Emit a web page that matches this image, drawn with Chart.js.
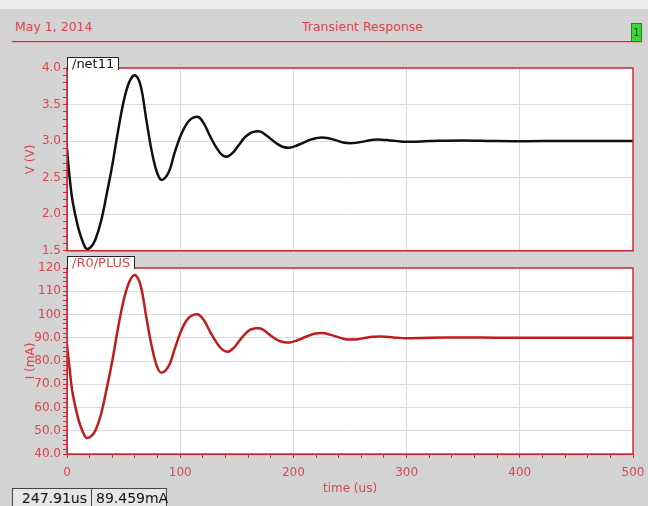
<!DOCTYPE html>
<html>
<head>
<meta charset="utf-8">
<script src="https://cdn.jsdelivr.net/npm/chart.js@4"></script>
<style>
  body { margin: 0; width: 648px; height: 506px; background: #d3d3d3; position: relative; overflow: hidden; font-family: "DejaVu Sans", sans-serif; }
  .topband { position: absolute; left: 0; top: 0; width: 648px; height: 9px; background: #ededed; }
  .hdr { position: absolute; top: 19px; font-size: 12.5px; color: #d84650; }
  .hline { position: absolute; left: 12px; top: 41px; width: 630px; height: 1px; background: #c0303a; box-shadow: 0 1px 1px #f0a0a8; }
  .green { position: absolute; left: 631px; top: 23px; width: 9px; height: 17px; background: #3ad83a; border: 1px solid #2a7a2a; font-size: 10px; color: #205020; text-align: center; line-height: 17px; }
  .wrap { position: absolute; left: 0; }
  .tab { position: absolute; background: #fff; border: 1px solid #222; border-bottom: none; font-size: 13px; line-height: 12px; padding: 0 4px 0 4px; z-index: 5; }
  .box { position: absolute; top: 488px; height: 18px; border: 1px solid #444; border-bottom: none; background: #e6e6e6; font-size: 14px; line-height: 19px; color: #111; padding: 0 4px; }
</style>
</head>
<body>
<div class="topband"></div>
<div class="hdr" style="left:15px">May 1, 2014</div>
<div class="hdr" style="left:302px">Transient Response</div>
<div class="hline"></div>
<div class="green">1</div>

<div class="wrap" style="top:55px"><canvas id="vChart" width="648" height="205"></canvas></div>
<div class="wrap" style="top:258px"><canvas id="iChart" width="648" height="248"></canvas></div>

<div class="tab" style="left:67px; top:57px; color:#111">/net11</div>
<div class="tab" style="left:67px; top:256px; color:#d84650">/R0/PLUS</div>

<div class="box" style="left:12px; width:70px; text-align:right">247.91us</div>
<div class="box" style="left:91px; width:66px">89.459mA</div>

<script>
// time samples (us)
const times = [0, 2, 5, 10, 14, 17, 21, 25, 30, 35, 40, 45, 50, 55, 60, 65, 70, 75, 80, 84,
  90, 95, 100, 105, 110, 116, 121, 126, 132, 137, 142, 147, 152, 157, 162, 166, 171, 176, 181, 186,
  191, 197, 203, 209, 215, 220, 225, 231, 238, 244, 250, 257, 264, 271, 278, 285, 292, 300, 320, 350,
  380, 420, 460, 500];

// /net11 voltage (V)
const netVolts = [2.90, 2.55, 2.17, 1.81, 1.62, 1.53, 1.55, 1.65, 1.90, 2.27, 2.67, 3.13, 3.54, 3.81, 3.90, 3.76, 3.30, 2.85, 2.55, 2.47,
  2.58, 2.84, 3.06, 3.22, 3.31, 3.33, 3.24, 3.08, 2.91, 2.81, 2.79, 2.85, 2.95, 3.05, 3.11, 3.13, 3.13, 3.08, 3.02, 2.96,
  2.92, 2.91, 2.94, 2.98, 3.02, 3.04, 3.05, 3.04, 3.01, 2.98, 2.97, 2.98, 3.00, 3.02, 3.02, 3.01, 3.00, 2.99, 3.00, 3.01,
  3.00, 3.00, 3.00, 3.00];

// /R0/PLUS current (mA)
const plusCurrent = [87, 78, 66, 55, 49.5, 47, 47.5, 50, 57, 68, 80, 94, 106, 114, 117, 112.5, 99, 86, 77, 75,
  78, 85, 92, 97, 99.5, 100, 97.5, 93, 88, 85, 84, 85.5, 88.5, 91.5, 93.5, 94, 94, 92.5, 90.5, 89,
  88.2, 88, 88.8, 90, 91.2, 91.8, 92, 91.5, 90.5, 89.6, 89.2, 89.4, 90, 90.4, 90.5, 90.3, 90, 89.8, 90, 90.1,
  90, 90, 90, 90];

const xTicks = [0, 100, 200, 300, 400, 500];

const RED = '#d84650';
const FRAME = '#cc2a36';
const GRID = '#dadada';
const FONT = { family: 'DejaVu Sans', size: 12 };

const frame = {
  id: 'frame',
  beforeDraw(chart) {
    const { ctx, chartArea: a } = chart;
    ctx.save();
    ctx.fillStyle = '#fff';
    ctx.fillRect(a.left, a.top, a.width, a.height);
    ctx.restore();
  },
  afterDraw(chart) {
    const { ctx, chartArea: a } = chart;
    ctx.save();
    ctx.strokeStyle = FRAME;
    ctx.lineWidth = 1.5;
    ctx.strokeRect(a.left, a.top, a.width, a.height);
    ctx.restore();
  }
};

function pts(ys) { return times.map((t, i) => ({ x: t, y: ys[i] })); }

function xScale(showLabels) {
  return {
    type: 'linear', min: 0, max: 500,
    afterBuildTicks: s => { s.ticks = []; for (let v = 0; v <= 500; v += 20) s.ticks.push({ value: v }); },
    ticks: {
      display: showLabels, autoSkip: false, maxRotation: 0, color: RED, font: FONT, padding: 8,
      callback: v => xTicks.includes(v) ? String(v) : ''
    },
    grid: {
      color: c => (c.tick && c.tick.value % 100 === 0) ? GRID : 'rgba(0,0,0,0)',
      tickColor: showLabels ? FRAME : 'rgba(0,0,0,0)', tickLength: 4
    },
    border: { color: FRAME },
    title: { display: showLabels, text: 'time (us)', color: RED, font: FONT, padding: { top: 0, bottom: 10 } },
    afterFit: s => {
      s.height = showLabels ? 52 : 8;
      s.paddingLeft = 0;
      s.paddingRight = 0;
    }
  };
}

function yScale(min, max, minor, major, title, fmt) {
  return {
    min: min, max: max,
    afterBuildTicks: s => {
      s.ticks = [];
      const n = Math.round((max - min) / minor);
      for (let k = 0; k <= n; k++) s.ticks.push({ value: +(min + k * minor).toFixed(4) });
    },
    ticks: {
      color: RED, font: FONT, padding: 2, autoSkip: false,
      callback: v => isMajor(v, major) ? fmt(v) : ''
    },
    grid: {
      color: c => (c.tick && isMajor(c.tick.value, major)) ? GRID : 'rgba(0,0,0,0)',
      tickColor: FRAME, tickLength: 4
    },
    border: { color: FRAME },
    title: { display: true, text: title, color: RED, font: FONT, padding: { top: 0, bottom: 0 } },
    afterFit: s => { s.width = 43; }
  };
}

function isMajor(v, major) {
  const r = v / major;
  return Math.abs(r - Math.round(r)) < 1e-6;
}

function common(scales, padTop) {
  return {
    responsive: false, animation: false, devicePixelRatio: 1,
    layout: { padding: { left: 24, right: 15, top: padTop, bottom: 0 } },
    plugins: { legend: { display: false }, tooltip: { enabled: false } },
    scales: scales
  };
}

new Chart(document.getElementById('vChart'), {
  type: 'line',
  data: { datasets: [{ data: pts(netVolts), borderColor: '#111', borderWidth: 2.5, pointRadius: 0, tension: 0.35 }] },
  options: common({ x: xScale(false), y: yScale(1.5, 4.0, 0.1, 0.5, 'V (V)', v => v.toFixed(1)) }, 13),
  plugins: [frame]
});

new Chart(document.getElementById('iChart'), {
  type: 'line',
  data: { datasets: [{ data: pts(plusCurrent), borderColor: '#c01c1c', borderWidth: 2.5, pointRadius: 0, tension: 0.35 }] },
  options: common({ x: xScale(true), y: yScale(40, 120, 2, 10, 'I (mA)', v => v >= 100 ? String(v) : v.toFixed(1)) }, 10),
  plugins: [frame]
});
</script>
</body>
</html>
